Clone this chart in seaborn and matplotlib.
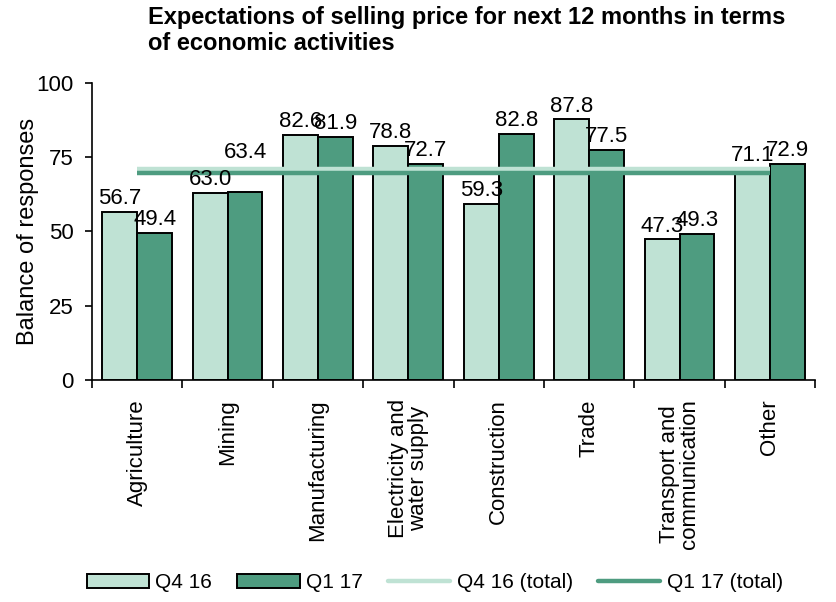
import numpy as np
import pandas as pd
import seaborn as sns
import matplotlib.pyplot as plt
from matplotlib.patches import Patch
from matplotlib.lines import Line2D

# data
categories = ['Agriculture', 'Mining', 'Manufacturing', 'Electricity and\nwater supply',
              'Construction', 'Trade', 'Transport and\ncommunication', 'Other']
q4_16 = [56.7, 63.0, 82.6, 78.8, 59.3, 87.8, 47.3, 71.1]
q1_17 = [49.4, 63.4, 81.9, 72.7, 82.8, 77.5, 49.3, 72.9]
q4_16_total = 71.0
q1_17_total = 69.8
periods = ['Q4 16', 'Q1 17']

light = '#BFE2D4'
dark = '#4E9C80'

df = pd.DataFrame({
    'category': categories * 2,
    'period': [periods[0]] * len(categories) + [periods[1]] * len(categories),
    'value': q4_16 + q1_17,
})

sns.set_style('white')
plt.rcParams['font.family'] = ['Liberation Sans', 'DejaVu Sans']
for k in ['text.color', 'axes.labelcolor', 'xtick.color', 'ytick.color']:
    plt.rcParams[k] = 'black'

fig = plt.figure(figsize=(8.36, 6.02), dpi=100)
ax = fig.add_axes([0.110, 0.369, 0.865, 0.493])

sns.barplot(data=df, x='category', y='value', hue='period', order=categories,
            hue_order=periods, palette=[light, dark], width=0.773, gap=0,
            edgecolor='black', linewidth=1.4, saturation=1, legend=False, ax=ax)

# value labels on top of the bars
labels = []
for cont in ax.containers:
    labels.append(ax.bar_label(cont, fmt='%.1f', padding=2, fontsize=16))
# the Mining Q1 17 label sits higher, above the total lines
labels[1][1].xyann = (0, 21)

# total lines
xs = np.arange(len(categories))
ax.plot(xs, [q4_16_total] * len(categories), color=light, lw=3.2, solid_capstyle='butt')
ax.plot(xs, [q1_17_total] * len(categories), color=dark, lw=3.2, solid_capstyle='butt')

ax.set_xlim(-0.5, len(categories) - 0.5)
ax.set_ylim(0, 100)
ax.set_yticks([0, 25, 50, 75, 100])
ax.tick_params(axis='y', labelsize=16, length=5, width=1.2, direction='out', left=True, pad=8)

# category labels at centres, tick marks at boundaries
ax.set_xticks(xs)
ax.set_xticklabels(categories, rotation=90, fontsize=16, linespacing=0.95)
ax.tick_params(axis='x', which='major', length=0, pad=14)
ax.set_xticks(np.arange(len(categories) + 1) - 0.5, minor=True)
ax.tick_params(axis='x', which='minor', length=6, width=1.2, direction='out', bottom=True)

ax.set_xlabel('')
ax.set_ylabel('Balance of responses', fontsize=17, labelpad=-2)

sns.despine(ax=ax)
for side in ['left', 'bottom']:
    ax.spines[side].set_color('black')
    ax.spines[side].set_linewidth(1.2)

fig.text(0.177, 0.99, 'Expectations of selling price for next 12 months in terms\nof economic activities',
         fontsize=17, fontweight='bold', ha='left', va='top', multialignment='left',
         linespacing=1.15)

handles = [
    Patch(facecolor=light, edgecolor='black', linewidth=1.4, label='Q4 16'),
    Patch(facecolor=dark, edgecolor='black', linewidth=1.4, label='Q1 17'),
    Line2D([], [], color=light, lw=3.2, label='Q4 16 (total)'),
    Line2D([], [], color=dark, lw=3.2, label='Q1 17 (total)'),
]
fig.legend(handles=handles, loc='center', bbox_to_anchor=(0.52, 0.032), ncol=4,
           frameon=False, fontsize=15, handlelength=3.0, handleheight=0.6,
           handletextpad=0.3, columnspacing=1.2)

fig.savefig('out.png', dpi=100)
